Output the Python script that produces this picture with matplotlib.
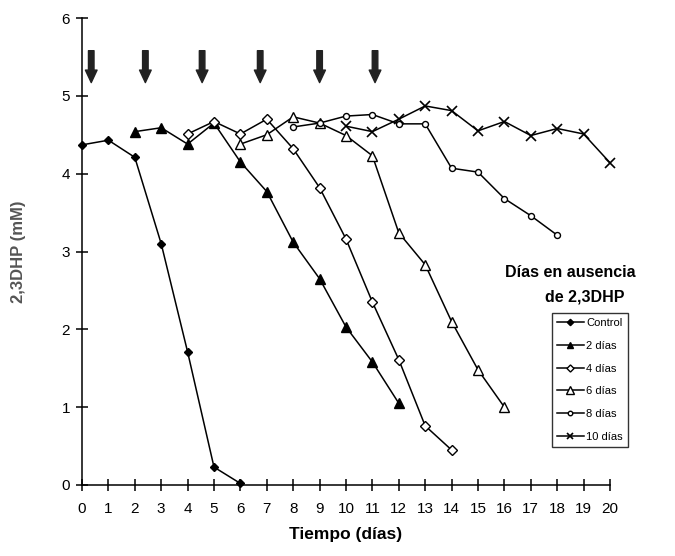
import matplotlib
matplotlib.use("Agg")
import matplotlib.pyplot as plt

plt.rcParams['font.family'] = ['Liberation Sans', 'DejaVu Sans']

# Data
control_x = [0, 1, 2, 3, 4, 5, 6]
control_y = [4.37, 4.43, 4.21, 3.10, 1.71, 0.23, 0.02]

d2_x = [2, 3, 4, 5, 6, 7, 8, 9, 10, 11, 12]
d2_y = [4.54, 4.59, 4.38, 4.65, 4.15, 3.77, 3.12, 2.65, 2.03, 1.58, 1.05]

d4_x = [4, 5, 6, 7, 8, 9, 10, 11, 12, 13, 14]
d4_y = [4.51, 4.67, 4.51, 4.70, 4.32, 3.82, 3.16, 2.35, 1.61, 0.76, 0.45]

d6_x = [6, 7, 8, 9, 10, 11, 12, 13, 14, 15, 16]
d6_y = [4.38, 4.50, 4.73, 4.65, 4.49, 4.23, 3.24, 2.83, 2.10, 1.48, 1.00]

d8_x = [8, 9, 10, 11, 12, 13, 14, 15, 16, 17, 18]
d8_y = [4.60, 4.65, 4.74, 4.76, 4.64, 4.64, 4.07, 4.02, 3.68, 3.46, 3.21]

d10_x = [10, 11, 12, 13, 14, 15, 16, 17, 18, 19, 20]
d10_y = [4.61, 4.54, 4.70, 4.87, 4.81, 4.55, 4.67, 4.49, 4.58, 4.51, 4.14]

arrow_x = [0.35, 2.4, 4.55, 6.75, 9.0, 11.1]
arrow_top, arrow_bottom = 5.58, 5.17

labels = ['Control', '2 días', '4 días', '6 días', '8 días', '10 días']
x_ticks = list(range(0, 21))
y_ticks = list(range(0, 7))

fig = plt.figure(figsize=(6.75, 5.56), dpi=100)
ax = fig.add_axes([82/675, 1-485/556, (610-82)/675, (485-18)/556])

k = dict(color='black', lw=1.1)
series = [
    (control_x, control_y, dict(marker='D', ms=4.3, mfc='black', mec='black')),
    (d2_x, d2_y, dict(marker='^', ms=6.5, mfc='black', mec='black')),
    (d4_x, d4_y, dict(marker='D', ms=4.8, mfc='white', mec='black', mew=1.0)),
    (d6_x, d6_y, dict(marker='^', ms=7, mfc='white', mec='black', mew=1.0)),
    (d8_x, d8_y, dict(marker='o', ms=4.3, mfc='white', mec='black', mew=1.0)),
    (d10_x, d10_y, dict(marker='x', ms=6.5, mec='black', mew=1.2)),
]
for (xs, ys, mk), lab in zip(series, labels):
    ax.plot(xs, ys, label=lab, clip_on=False, zorder=3, **k, **mk)

for xa in arrow_x:
    ax.annotate('', xy=(xa, arrow_bottom), xytext=(xa, arrow_top),
                arrowprops=dict(arrowstyle='simple,head_width=0.42,head_length=0.45,tail_width=0.2',
                                color='#222222', mutation_scale=20, shrinkA=0, shrinkB=0))

ax.set_xlim(0, 20)
ax.set_ylim(0, 6)
ax.set_xticks(x_ticks)
ax.set_yticks(y_ticks)
for s in ['top', 'right']:
    ax.spines[s].set_visible(False)
for s in ['left', 'bottom']:
    ax.spines[s].set_linewidth(1.1)
ax.tick_params(axis='both', direction='inout', length=9, width=1.1, labelsize=11, colors='black')
ax.tick_params(axis='x', pad=8)
ax.tick_params(axis='y', pad=4)

ax.set_xlabel('Tiempo (días)', fontsize=12.5, fontweight='bold', labelpad=8)
ax.set_ylabel('2,3DHP (mM)', fontsize=12, fontweight='bold', color='#555555', labelpad=26)

fig.text(570/675, 1-272/556, 'Días en ausencia', ha='center', va='center', fontsize=11.5, fontweight='bold')
fig.text(585/675, 1-297/556, 'de 2,3DHP', ha='center', va='center', fontsize=11.5, fontweight='bold')

handles, labs = ax.get_legend_handles_labels()
leg = fig.legend(handles, labs, loc='upper left', bbox_to_anchor=(552/675, 1-313/556),
                 fontsize=8, frameon=True, fancybox=False, edgecolor='black',
                 handlelength=2.4, handletextpad=0.2, borderpad=0.45, labelspacing=1.15,
                 markerscale=0.75, borderaxespad=0)
leg.get_frame().set_linewidth(1.0)

fig.savefig('out.png', dpi=100)
